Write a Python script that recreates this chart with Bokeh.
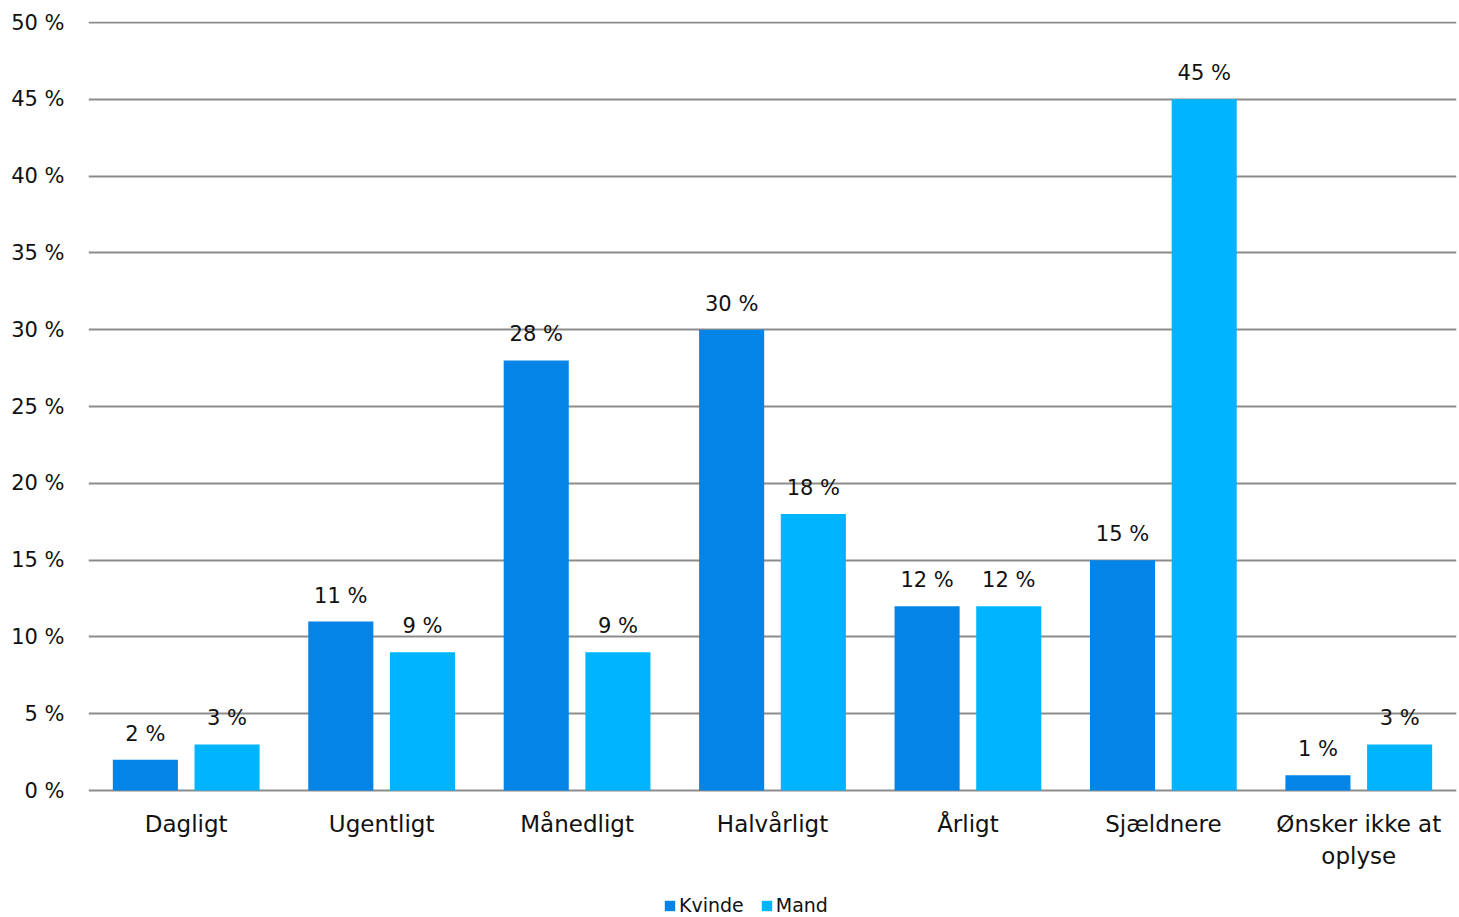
from bokeh.plotting import figure
from bokeh.models import ColumnDataSource, FactorRange, Range1d, Legend, LegendItem, FixedTicker
from bokeh.transform import dodge
from bokeh.embed import file_html
from bokeh.resources import INLINE

categories = ["Dagligt", "Ugentligt", "Månedligt", "Halvårligt", "Årligt", "Sjældnere", "Ønsker ikke at\noplyse"]
kvinde = [2, 11, 28, 30, 12, 15, 1]
mand = [3, 9, 9, 18, 12, 45, 3]
y_ticks = [0, 5, 10, 15, 20, 25, 30, 35, 40, 45, 50]
series_names = ["Kvinde", "Mand"]
colors = ["#0584E7", "#00B4FE"]
FONT = "DejaVu Sans"

src = ColumnDataSource(dict(
    cat=categories,
    zero=[0] * len(categories),
    kvinde=kvinde,
    mand=mand,
    klab=[f"{v} %" for v in kvinde],
    mlab=[f"{v} %" for v in mand],
))

p = figure(width=1458, height=916, x_range=FactorRange(*categories), y_range=Range1d(-8.2, 50.07),
           output_backend="svg", toolbar_location=None,
           min_border_left=88, min_border_right=2, min_border_top=21, min_border_bottom=0)
p.outline_line_color = None
p.background_fill_color = "white"

r1 = p.vbar(x=dodge("cat", -0.209, range=p.x_range), top="kvinde", width=0.333, source=src,
            fill_color=colors[0], line_color=None)
r2 = p.vbar(x=dodge("cat", 0.209, range=p.x_range), top="mand", width=0.333, source=src,
            fill_color=colors[1], line_color=None)

for col, off, top in (("klab", -0.209, "kvinde"), ("mlab", 0.209, "mand")):
    p.text(x=dodge("cat", off, range=p.x_range), y=top, text=col, source=src,
           text_align="center", text_baseline="bottom", y_offset=-14,
           text_font_size="21px", text_color="#111111", text_font={"value": FONT})

# category labels below the zero line
p.text(x="cat", y="zero", text="cat", source=src, text_align="center", text_baseline="top",
       y_offset=20, text_font_size="23px", text_color="#111111", text_font={"value": FONT},
       text_line_height=1.25)

p.xaxis.visible = False

p.yaxis.ticker = FixedTicker(ticks=y_ticks)
p.yaxis.major_label_overrides = {t: f"{t} %" for t in y_ticks}
p.yaxis.axis_line_color = None
p.yaxis.major_tick_line_color = None
p.yaxis.major_tick_out = 0
p.yaxis.major_tick_in = 0
p.yaxis.minor_tick_line_color = None
p.yaxis.major_label_text_font_size = "21px"
p.yaxis.major_label_text_font = FONT
p.yaxis.major_label_text_color = "#111111"
p.yaxis.major_label_standoff = 24

p.xgrid.grid_line_color = None
p.ygrid.grid_line_color = "#8C8C8C"
p.ygrid.grid_line_width = 2
p.ygrid.ticker = FixedTicker(ticks=y_ticks)

legend = Legend(items=[LegendItem(label=series_names[0], renderers=[r1]),
                       LegendItem(label=series_names[1], renderers=[r2])],
                orientation="horizontal", location=(575, 0),
                label_text_font_size="19px", label_text_font=FONT, label_text_color="#111111",
                glyph_width=13, glyph_height=13, label_standoff=3, spacing=16,
                padding=0, margin=0, border_line_color=None, background_fill_alpha=0)
p.add_layout(legend, "center")

open("out.html", "w").write(file_html(p, INLINE))
